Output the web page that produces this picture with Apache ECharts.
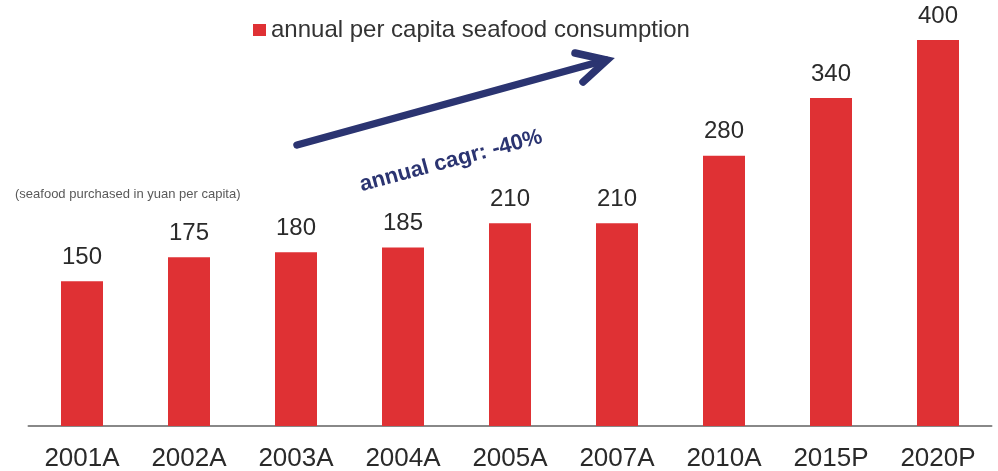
<!DOCTYPE html>
<html>
<head>
<meta charset="utf-8">
<script src="https://cdn.jsdelivr.net/npm/echarts@6/dist/echarts.min.js"></script>
<style>
  html, body { margin: 0; padding: 0; background: #fff; }
  #chart { width: 998px; height: 471px; }
</style>
</head>
<body>
<div id="chart"></div>
<script>
// Years (A = actual, P = projected)
const categories = ['2001A', '2002A', '2003A', '2004A', '2005A', '2007A', '2010A', '2015P', '2020P'];
// Seafood purchased, yuan per capita
const consumption = [150, 175, 180, 185, 210, 210, 280, 340, 400];
const seriesName = 'annual per capita seafood consumption';
const unitNote = '(seafood purchased in yuan per capita)';
const cagrNote = 'annual cagr: -40%';

const RED = '#DF3134';
const NAVY = '#2B3471';
const FONT = "'Liberation Sans', Arial, Helvetica, sans-serif";

const chart = echarts.init(document.getElementById('chart'), null, { renderer: 'canvas' });

chart.setOption({
  animation: false,
  backgroundColor: '#ffffff',
  textStyle: { fontFamily: FONT },
  legend: {
    data: [seriesName],
    left: 248,
    top: 13,
    itemWidth: 13,
    itemHeight: 12,
    itemGap: 5,
    icon: 'rect',
    textStyle: { fontSize: 24, color: '#333333', fontFamily: FONT }
  },
  grid: {
    left: 28.5, right: 6.5, top: 40, bottom: 45,
    containLabel: false,
    outerBoundsMode: 'none'
  },
  xAxis: {
    type: 'category',
    data: categories,
    axisLine: { show: true, lineStyle: { color: '#888888', width: 2 } },
    axisTick: { show: false },
    axisLabel: { fontSize: 26, color: '#2a2a2a', margin: 20, fontFamily: FONT }
  },
  yAxis: {
    type: 'value',
    min: 0,
    max: 400,
    show: false,
    splitLine: { show: false }
  },
  series: [{
    name: seriesName,
    type: 'bar',
    data: consumption,
    barWidth: 42,
    itemStyle: { color: RED },
    label: {
      show: true,
      position: 'top',
      distance: 12,
      fontSize: 24,
      color: '#2a2a2a',
      fontFamily: FONT
    }
  }],
  graphic: [
    {
      type: 'text',
      left: 15,
      top: 188,
      style: { text: unitNote, fontSize: 13, fill: '#595959', fontFamily: FONT }
    },
    {
      type: 'polyline',
      shape: { points: [[297, 145], [606, 60]] },
      style: { stroke: NAVY, lineWidth: 7.5, lineCap: 'round' }
    },
    {
      type: 'polyline',
      shape: { points: [[575, 53], [607, 60], [583, 82]] },
      style: { stroke: NAVY, lineWidth: 7.5, lineCap: 'round', lineJoin: 'miter', fill: null }
    },
    {
      type: 'text',
      x: 451,
      y: 161,
      rotation: 15 * Math.PI / 180,
      style: {
        text: cagrNote,
        fontSize: 22,
        fontWeight: 'bold',
        fill: NAVY,
        align: 'center',
        verticalAlign: 'middle',
        fontFamily: FONT
      }
    }
  ]
});
</script>
</body>
</html>
